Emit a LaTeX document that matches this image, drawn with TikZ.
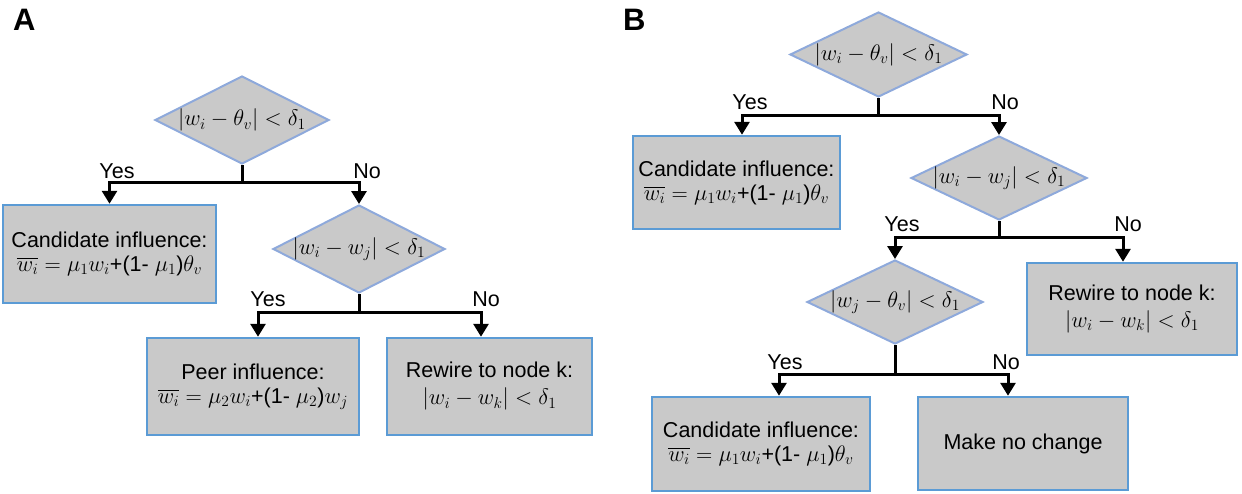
\documentclass[tikz,border=0pt]{standalone}
\usepackage[no-math]{fontspec}
\setmainfont{Liberation Sans}
\usepackage{amsmath}
\usepackage{graphicx}
\usetikzlibrary{shapes.geometric,arrows.meta}
\definecolor{boxfill}{HTML}{C9C9C9}
\definecolor{boxline}{HTML}{5B9BD5}
\definecolor{diamline}{HTML}{8EA9DB}
\newcommand{\bmath}[1]{{\fontsize{20.74}{24}\selectfont\scalebox{1.085}{$#1$}}}
\newcommand{\dmath}[1]{\makebox[0pt]{\bmath{#1}}}
\begin{document}
\begin{tikzpicture}[x=1pt,y=-1pt,
  every node/.style={font=\fontsize{21.5}{24}\selectfont},
  dec/.style={diamond, aspect=2, draw=diamline, line width=2pt, fill=boxfill, inner sep=0pt},
  act/.style={rectangle, draw=boxline, line width=2.5pt, fill=boxfill, align=center, inner sep=0pt},
  conn/.style={line width=3pt, draw=black},
  arr/.style={conn, -{Triangle[width=15pt,length=13pt]}},
  lab/.style={inner sep=0pt},
  panel/.style={font=\fontsize{31}{31}\selectfont\bfseries, inner sep=0pt, anchor=base west}]
\useasboundingbox (0,0) rectangle (1242,493);

% ---------- Panel A ----------
\node[panel] (lA) at (13,30) {A};
\node[dec, minimum width=174pt, minimum height=88pt] (dA1) at (242,120) {\dmath{|w_i-\theta_v|<\delta_1}};
\node[act, minimum width=213pt, minimum height=98pt] (cA) at (109.5,254) {Candidate influence:\\ \bmath{\overline{w_i}=\mu_1 w_i}+(1- \bmath{\mu_1})\bmath{\theta_v}};
\node[dec, minimum width=172pt, minimum height=88pt] (dA2) at (359,249) {\dmath{\left|w_i-w_j\right|<\delta_1}};
\node[act, minimum width=212pt, minimum height=97pt] (pA) at (253,386.5) {Peer influence:\\ \bmath{\overline{w_i}=\mu_2 w_i}+(1- \bmath{\mu_2})\bmath{w_j}};
\node[act, minimum width=205pt, minimum height=97pt] (rA) at (489.5,386.5) {Rewire to node k:\\[3pt] \bmath{|w_i-w_k|<\delta_1}};

\coordinate (jA1) at (dA1.south |- 0,182);
\draw[conn] (dA1.south) -- (jA1);
\draw[arr] (jA1) -| (cA.north);
\draw[arr] (jA1) -| (dA2.north);
\node[lab] (yA1) at (117,171) {Yes};
\node[lab] (nA1) at (367,171) {No};

\coordinate (jA2) at (dA2.south |- 0,312);
\draw[conn] (dA2.south) -- (jA2);
\draw[arr] (jA2) -| ([xshift=5pt]pA.north);
\draw[arr] (jA2) -| ([xshift=-8.5pt]rA.north);
\node[lab] (yA2) at (268,299) {Yes};
\node[lab] (nA2) at (486,299) {No};

% ---------- Panel B ----------
\node[panel] (lB) at (623,30) {B};
\node[dec, minimum width=177pt, minimum height=85pt] (dB1) at (878.5,54.5) {\dmath{|w_i-\theta_v|<\delta_1}};
\node[act, minimum width=207pt, minimum height=93pt] (cB1) at (736.5,182.5) {Candidate influence:\\ \bmath{\overline{w_i}=\mu_1 w_i}+(1- \bmath{\mu_1})\bmath{\theta_v}};
\node[dec, minimum width=176pt, minimum height=84pt] (dB2) at (999,178) {\dmath{\left|w_i-w_j\right|<\delta_1}};
\node[act, minimum width=210pt, minimum height=92pt] (rB) at (1132,309) {Rewire to node k:\\[3pt] \bmath{|w_i-w_k|<\delta_1}};
\node[dec, minimum width=176pt, minimum height=84pt] (dB3) at (895,302) {\dmath{\left|w_j-\theta_v\right|<\delta_1}};
\node[act, minimum width=218pt, minimum height=94pt] (cB2) at (761,444) {Candidate influence:\\ \bmath{\overline{w_i}=\mu_1 w_i}+(1- \bmath{\mu_1})\bmath{\theta_v}};
\node[act, minimum width=210pt, minimum height=93pt] (mB) at (1023,443.5) {Make no change};

\coordinate (jB1) at (dB1.south |- 0,115);
\draw[conn] (dB1.south) -- (jB1);
\draw[arr] (jB1) -| ([xshift=5.5pt]cB1.north);
\draw[arr] (jB1) -| (dB2.north);
\node[lab] (yB1) at (750,102) {Yes};
\node[lab] (nB1) at (1005,102) {No};

\coordinate (jB2) at (dB2.south |- 0,237);
\draw[conn] (dB2.south) -- (jB2);
\draw[arr] (jB2) -| (dB3.north);
\draw[arr] (jB2) -| ([xshift=-9pt]rB.north);
\node[lab] (yB2) at (902,224) {Yes};
\node[lab] (nB2) at (1128,224) {No};

\coordinate (jB3) at (dB3.south |- 0,374);
\draw[conn] (dB3.south) -- (jB3);
\draw[arr] (jB3) -| ([xshift=18pt]cB2.north);
\draw[arr] (jB3) -| ([xshift=-15pt]mB.north);
\node[lab] (yB3) at (785,362) {Yes};
\node[lab] (nB3) at (1006,362) {No};
\end{tikzpicture}
\end{document}
